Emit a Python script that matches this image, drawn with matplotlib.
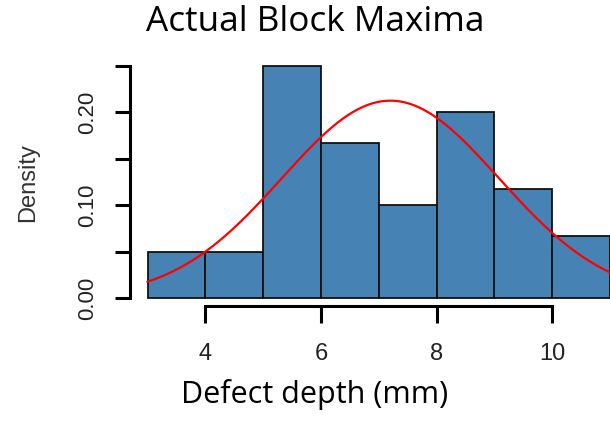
import numpy as np
import matplotlib
matplotlib.use("Agg")
import matplotlib.pyplot as plt

# Data
bin_edges = [3, 4, 5, 6, 7, 8, 9, 10, 11]
densities = [0.05, 0.05, 0.25, 0.1667, 0.10, 0.20, 0.1167, 0.0667]
fit_mean = 7.2
fit_sd = 1.88
x_ticks = [4, 6, 8, 10]
y_ticks = [0.00, 0.05, 0.10, 0.15, 0.20, 0.25]
y_tick_labels = ["0.00", "", "0.10", "", "0.20", ""]

W, H = 610, 421
fig = plt.figure(figsize=(W / 100, H / 100), dpi=100)

left_px, right_px, top_px, bottom_px = 130, 610, 50, 306
ax = fig.add_axes([left_px / W, 1 - bottom_px / H, (right_px - left_px) / W, (bottom_px - top_px) / H])

edges = np.array(bin_edges, dtype=float)
ax.bar(edges[:-1], densities, width=np.diff(edges), align="edge",
       color="#4682B4", edgecolor="#111111", linewidth=1.3, zorder=2)

xs = np.linspace(edges[0], edges[-1] + 0.5, 300)
ys = np.exp(-0.5 * ((xs - fit_mean) / fit_sd) ** 2) / (fit_sd * np.sqrt(2 * np.pi))
ax.plot(xs, ys, color="red", linewidth=1.6, zorder=3)

ax.set_xlim(2.695, 11.0)
ax.set_ylim(-0.0086, 0.2667)

for s in ["top", "right"]:
    ax.spines[s].set_visible(False)
ax.spines["left"].set_bounds(0, 0.25)
ax.spines["bottom"].set_bounds(4, 10)
ax.spines["left"].set_linewidth(2.2)
ax.spines["bottom"].set_linewidth(2.2)

ax.set_xticks(x_ticks)
ax.set_xticklabels([str(t) for t in x_ticks], fontfamily="Liberation Sans", fontsize=17)
ax.set_yticks(y_ticks)
ax.set_yticklabels(y_tick_labels, fontfamily="Liberation Sans", fontsize=16,
                   rotation=90, va="center")
ax.tick_params(axis="x", length=12, width=2.2, pad=15, colors="black")
ax.tick_params(axis="y", length=11, width=2.2, pad=12, colors="black")
for lbl in ax.get_xticklabels() + ax.get_yticklabels():
    lbl.set_color("#222222")

fig.text(28 / W, 1 - 183 / H, "Density", rotation=90, ha="center", va="center",
         fontfamily="Liberation Sans", fontsize=17, color="#333333")
fig.text(315 / W, 1 - 22 / H, "Actual Block Maxima", ha="center", va="center",
         fontfamily="Open Sans", fontsize=25.3, color="black")
fig.text(315 / W, 1 - 395 / H, "Defect depth (mm)", ha="center", va="center",
         fontfamily="Open Sans", fontsize=22, color="black")

fig.savefig("out.png", dpi=100)
